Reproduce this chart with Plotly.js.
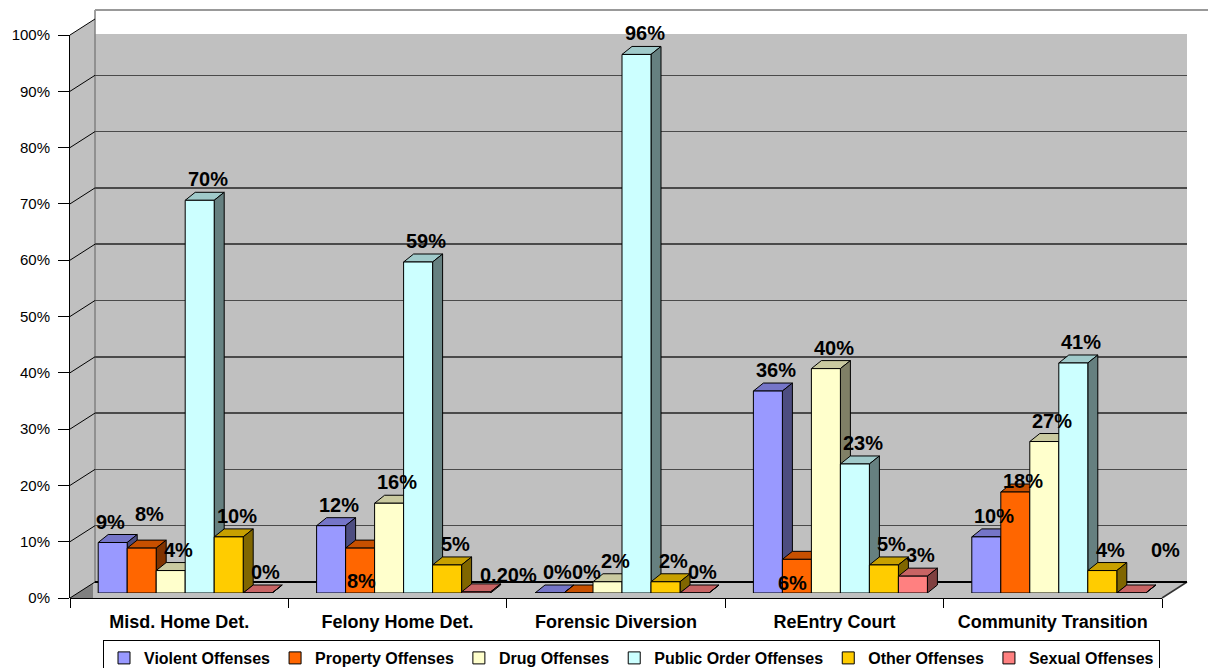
<!DOCTYPE html>
<html>
<head>
<meta charset="utf-8">
<script src="https://cdn.plot.ly/plotly-3.0.1.min.js"></script>
<style>
  html, body { margin: 0; padding: 0; background: #ffffff; }
  #chart { width: 1208px; height: 668px; }
</style>
</head>
<body>
<div id="chart"></div>
<script>
// ---- data (percent of participants by offense type) ----
const categories = ['Misd. Home Det.', 'Felony Home Det.', 'Forensic Diversion', 'ReEntry Court', 'Community Transition'];
const seriesNames = ['Violent Offenses', 'Property Offenses', 'Drug Offenses', 'Public Order Offenses', 'Other Offenses', 'Sexual Offenses'];
const violent     = [9, 12, 0, 36, 10];
const property    = [8, 8, 0, 6, 18];
const drug        = [4, 16, 2, 40, 27];
const publicOrder = [70, 59, 96, 23, 41];
const otherOff    = [10, 5, 2, 5, 4];
const sexual      = [0, 0.2, 0, 3, 0];
const yTicks      = [0, 10, 20, 30, 40, 50, 60, 70, 80, 90, 100];
const yTickText   = yTicks.map(t => t + '%');

const seriesValues = [violent, property, drug, publicOrder, otherOff, sexual];

// ---- styling ----
const frontColors = ['#9999FF', '#FF6600', '#FFFFCC', '#CCFFFF', '#FFCC00', '#FF8080'];
const topColors   = ['#7575C8', '#C85000', '#CACAA0', '#A0CACA', '#C8A000', '#C86464'];
const sideColors  = ['#4D4D80', '#803300', '#808066', '#668080', '#806600', '#804040'];
const FONT = 'Liberation Sans, Arial, sans-serif';

// label placement tweaks (screen pixels, +dy = down)
const labelNudge = {
  'Violent Offenses|Misd. Home Det.': { dx: -10, dy: 0 },
  'Property Offenses|Misd. Home Det.': { dx: 0, dy: -13 },
  'Property Offenses|Felony Home Det.': { dx: -7, dy: 54 },
  'Property Offenses|ReEntry Court': { dx: -12, dy: 45 },
  'Property Offenses|Community Transition': { dx: 0, dy: 10 },
  'Sexual Offenses|Felony Home Det.': { dx: 24, dy: 4 },
  'Sexual Offenses|Community Transition': { dx: 26, dy: -22 }
};

// ---- geometry of the pseudo-3D frame (pixels) ----
const W = 1208, H = 668;
const frontL = 70, frontR = 1162;       // front floor edge
const depthX = 25;                      // wall depth
const barBase = 593, barTop100 = 32;    // bar scale
const lblBase = 598, lblTop100 = 35;    // left axis scale
const gridBase = 582, gridTop100 = 19;  // back-wall scale
const groupShiftPx = 6;                 // bars sit mid-depth
const barPx = 29;                       // bar width in pixels
const faceDX = 10, faceDY = 8;          // bar top/side depth

const catPx = (frontR - frontL) / categories.length;
const unitPx = (barBase - barTop100) / 100;
const barW = barPx / catPx;
const shiftU = groupShiftPx / catPx;
const dxU = faceDX / catPx;
const dyU = faceDY / unitPx;

const px = x => x / W;
const py = y => 1 - y / H;
const fmt = v => Number.isInteger(v) ? v + '%' : v.toFixed(2) + '%';

function offsetFor(j) {
  return -barW * seriesNames.length / 2 + j * barW + shiftU;
}

// ---- traces ----
// back-wall grid subplot (x / y), drawn first so the bars sit in front of it
const traces = [{ type: 'scatter', x: [], y: [], xaxis: 'x', yaxis: 'y', showlegend: false, hoverinfo: 'skip' }];

// bars on x2 / y2
seriesNames.forEach((name, j) => {
  traces.push({
    type: 'bar',
    name: name,
    x: categories,
    y: seriesValues[j],
    xaxis: 'x2', yaxis: 'y2',
    offset: offsetFor(j),
    width: barW,
    marker: { color: frontColors[j], line: { color: '#000000', width: 1 } },
    hoverinfo: 'skip'
  });
});

// left value axis (x2 / y3)
traces.push({ type: 'scatter', x: [], y: [], xaxis: 'x2', yaxis: 'y3', showlegend: false, hoverinfo: 'skip' });

// ---- wall, floor and side-wall decoration ----
function polyPath(pts) {
  return 'M' + pts.map(p => px(p[0]) + ',' + py(p[1])).join('L') + 'Z';
}
const shapes = [];
shapes.push({ type: 'path', xref: 'paper', yref: 'paper', layer: 'below',
  path: polyPath([[frontL + depthX, gridTop100 + 15], [frontR + depthX, gridTop100 + 15], [frontR + depthX, gridBase], [frontL + depthX, gridBase]]),
  fillcolor: '#C0C0C0', line: { width: 0 } });
shapes.push({ type: 'path', xref: 'paper', yref: 'paper', layer: 'below',
  path: polyPath([[frontL, lblTop100], [frontL + depthX, gridTop100], [frontL + depthX, gridBase], [frontL, lblBase]]),
  fillcolor: '#C0C0C0', line: { width: 0 } });
shapes.push({ type: 'path', xref: 'paper', yref: 'paper', layer: 'below',
  path: polyPath([[frontL, lblBase], [frontL + depthX, gridBase], [frontR + depthX, gridBase], [frontR, lblBase]]),
  fillcolor: '#C0C0C0', line: { width: 0 } });
shapes.push({ type: 'path', xref: 'paper', yref: 'paper', layer: 'below',
  path: polyPath([[frontL, lblBase], [frontL + depthX - 2, gridBase + 1], [frontL + depthX - 2, lblBase]]),
  fillcolor: '#808080', line: { width: 0 } });
shapes.push({ type: 'line', xref: 'paper', yref: 'paper', layer: 'below',
  x0: px(frontL + depthX), x1: px(frontL + depthX), y0: py(gridTop100 - 9), y1: py(gridBase),
  line: { color: '#808080', width: 1.5 } });
shapes.push({ type: 'line', xref: 'paper', yref: 'paper', layer: 'below',
  x0: px(frontL + depthX), x1: 1, y0: py(gridTop100 - 9), y1: py(gridTop100 - 9),
  line: { color: '#999999', width: 2 } });
shapes.push({ type: 'line', xref: 'paper', yref: 'paper', layer: 'below',
  x0: px(frontR), x1: px(frontR + depthX), y0: py(lblBase), y1: py(gridBase),
  line: { color: '#333333', width: 1.5 } });
yTicks.forEach(t => {
  const yl = lblBase - t * (lblBase - lblTop100) / 100;
  const yg = gridBase - t * (gridBase - gridTop100) / 100;
  shapes.push({ type: 'line', xref: 'paper', yref: 'paper', layer: 'below',
    x0: px(frontL), x1: px(frontL + depthX), y0: py(yl), y1: py(yg),
    line: { color: '#000000', width: 1 } });
});

// ---- bar top and side faces, label annotations ----
const annotations = [];
categories.forEach((cat, i) => {
  seriesNames.forEach((name, j) => {
    const v = seriesValues[j][i];
    const x0 = i + offsetFor(j);
    const x1 = x0 + barW;
    shapes.push({ type: 'path', xref: 'x2', yref: 'y2', layer: 'between',
      path: `M${x0},${v}L${x1},${v}L${x1 + dxU},${v + dyU}L${x0 + dxU},${v + dyU}Z`,
      fillcolor: topColors[j], line: { color: '#000000', width: 1 } });
    shapes.push({ type: 'path', xref: 'x2', yref: 'y2', layer: 'between',
      path: `M${x1},${v}L${x1},0L${x1 + dxU},${dyU}L${x1 + dxU},${v + dyU}Z`,
      fillcolor: sideColors[j], line: { color: '#000000', width: 1 } });
    const n = labelNudge[name + '|' + cat] || { dx: 0, dy: 0 };
    annotations.push({
      xref: 'x2', yref: 'y2', x: x0 + barW / 2, y: v,
      xshift: 8 + n.dx, yshift: 21 - n.dy,
      text: fmt(v), showarrow: false, xanchor: 'center', yanchor: 'middle',
      font: { family: FONT, size: 20, color: '#000000', weight: 700 }
    });
  });
});

const layout = {
  width: W, height: H,
  margin: { l: 0, r: 0, t: 0, b: 0, pad: 0, autoexpand: false },
  paper_bgcolor: '#ffffff',
  plot_bgcolor: 'rgba(0,0,0,0)',
  barmode: 'overlay',
  hovermode: false,
  showlegend: true,
  font: { family: FONT, size: 15, color: '#000000' },
  // back wall
  xaxis: {
    domain: [px(frontL + depthX), px(frontR + depthX)],
    range: [0, 1], anchor: 'y',
    visible: false, fixedrange: true
  },
  yaxis: {
    type: 'linear',
    domain: [py(gridBase), py(gridTop100)],
    range: [0, 100], anchor: 'x',
    tickmode: 'array', tickvals: yTicks,
    showticklabels: false, ticks: '',
    showgrid: true, gridcolor: '#4a4a4a', gridwidth: 1.5,
    zeroline: true, zerolinecolor: '#000000', zerolinewidth: 2,
    showline: false, fixedrange: true
  },
  // bars and categories
  xaxis2: {
    type: 'category',
    domain: [px(frontL), px(frontR)],
    anchor: 'free', position: py(lblBase),
    range: [-0.5, categories.length - 0.5],
    showline: true, linecolor: '#000000', linewidth: 1,
    ticks: 'outside', tickson: 'boundaries', ticklen: 9, tickcolor: '#000000',
    ticklabelstandoff: 7,
    tickfont: { family: FONT, size: 18, color: '#000000', weight: 700 },
    showgrid: false, zeroline: false, fixedrange: true, automargin: false
  },
  yaxis2: {
    type: 'linear',
    domain: [py(barBase), py(barTop100)],
    range: [0, 100], anchor: 'x2',
    visible: false, fixedrange: true
  },
  // left value axis
  yaxis3: {
    type: 'linear',
    domain: [py(lblBase), py(lblTop100)],
    range: [0, 100], anchor: 'x2', side: 'left',
    tickmode: 'array', tickvals: yTicks, ticktext: yTickText,
    showticklabels: true,
    ticks: 'outside', ticklen: 11, tickcolor: '#000000',
    ticklabelstandoff: 5,
    tickfont: { family: FONT, size: 15, color: '#000000' },
    showline: true, linecolor: '#000000', linewidth: 1,
    showgrid: false, zeroline: false, fixedrange: true, automargin: false
  },
  legend: {
    orientation: 'h',
    x: px(103), xanchor: 'left',
    y: py(640), yanchor: 'top',
    bgcolor: '#ffffff', bordercolor: '#000000', borderwidth: 1,
    font: { family: FONT, size: 16, color: '#000000', weight: 700 },
    itemwidth: 30, traceorder: 'normal', itemclick: false, itemdoubleclick: false
  },
  shapes: shapes,
  annotations: annotations
};

Plotly.newPlot('chart', traces, layout, { staticPlot: true, displayModeBar: false });
</script>
</body>
</html>
